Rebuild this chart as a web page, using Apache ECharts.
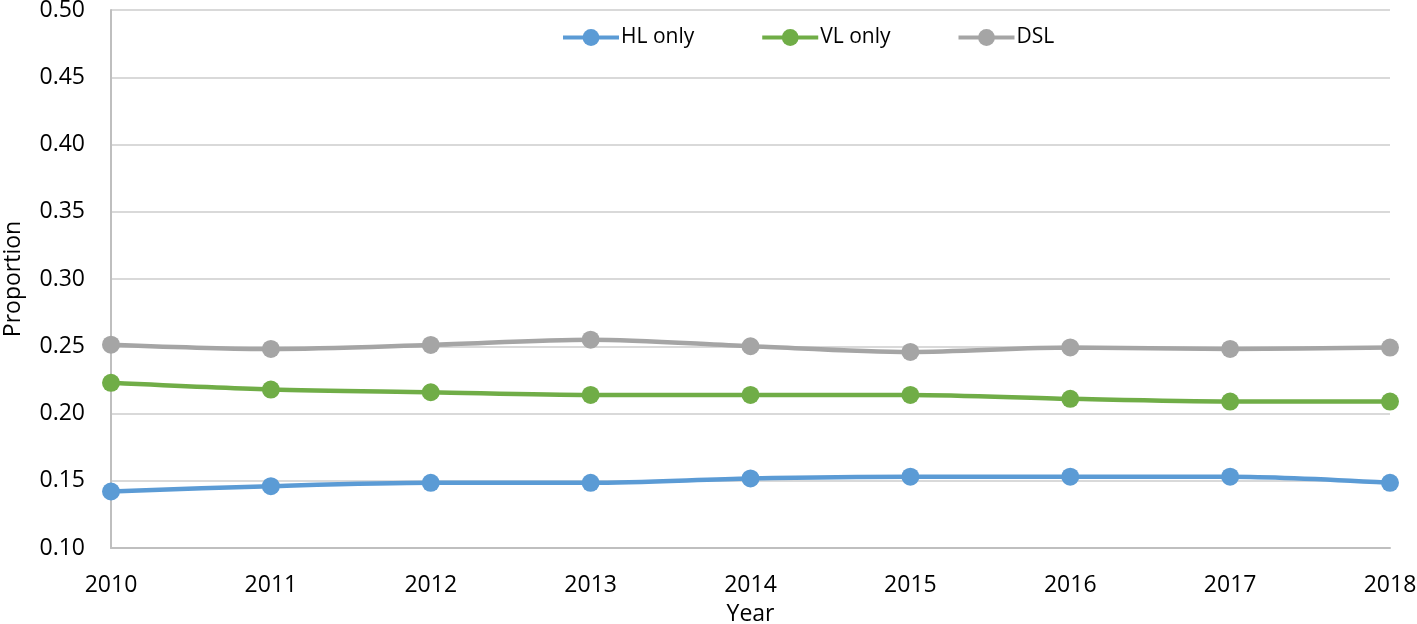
<!DOCTYPE html>
<html>
<head>
<meta charset="utf-8">
<script src="https://cdn.jsdelivr.net/npm/echarts@6/dist/echarts.min.js"></script>
<style>html,body{margin:0;padding:0;background:#fff;}#c{width:1417px;height:624px;}</style>
</head>
<body>
<div id="c"></div>
<script>
const years = ['2010','2011','2012','2013','2014','2015','2016','2017','2018'];
const hlOnly = [0.142, 0.146, 0.1485, 0.1485, 0.1517, 0.153, 0.153, 0.153, 0.1485];
const vlOnly = [0.2228, 0.2178, 0.2158, 0.2138, 0.2138, 0.2138, 0.2109, 0.2089, 0.2089];
const dsl = [0.2512, 0.248, 0.251, 0.2549, 0.250, 0.2458, 0.2491, 0.248, 0.249];
const seriesNames = ['HL only', 'VL only', 'DSL'];
const yTicks = { min: 0.10, max: 0.50, interval: 0.05 };

const FONT = 'Open Sans';
const colors = ['#5B9BD5', '#70AD47', '#A5A5A5'];
const chart = echarts.init(document.getElementById('c'), null, { renderer: 'canvas' });
const mk = (name, data, color) => ({
  name, type: 'line', data, smooth: 0.3,
  symbol: 'circle', symbolSize: 18,
  lineStyle: { color, width: 4.5 },
  itemStyle: { color },
  emphasis: { disabled: true }
});
chart.setOption({
  animation: false,
  textStyle: { fontFamily: FONT },
  grid: { left: 111, right: 27, top: 10, bottom: 76, containLabel: false, outerBoundsMode: 'none' },
  legend: {
    data: seriesNames,
    left: 556, top: 22,
    itemWidth: 56, itemHeight: 21, itemGap: 66,
    lineStyle: { width: 4 },
    textStyle: { fontFamily: FONT, fontSize: 21, color: '#000', padding: [0,0,0,-3] }
  },
  xAxis: {
    type: 'category', data: years, boundaryGap: false,
    name: 'Year', nameLocation: 'middle', nameGap: 55,
    nameTextStyle: { fontFamily: FONT, fontSize: 23, color: '#000' },
    axisLine: { lineStyle: { color: '#BFBFBF', width: 2 } },
    axisTick: { show: false },
    axisLabel: { fontFamily: FONT, fontSize: 23, color: '#000', margin: 26 },
    splitLine: { show: false }
  },
  yAxis: {
    type: 'value', min: yTicks.min, max: yTicks.max, interval: yTicks.interval,
    name: 'Proportion', nameLocation: 'middle', nameGap: 86, nameRotate: 90,
    nameTextStyle: { fontFamily: FONT, fontSize: 23, color: '#000' },
    axisLine: { show: true, lineStyle: { color: '#BFBFBF', width: 2 } },
    axisTick: { show: false },
    axisLabel: { fontFamily: FONT, fontSize: 23, color: '#000', margin: 26, formatter: v => v.toFixed(2) },
    splitLine: { lineStyle: { color: '#D9D9D9', width: 2 } }
  },
  series: [mk(seriesNames[0], hlOnly, colors[0]), mk(seriesNames[1], vlOnly, colors[1]), mk(seriesNames[2], dsl, colors[2])]
});
</script>
</body>
</html>
